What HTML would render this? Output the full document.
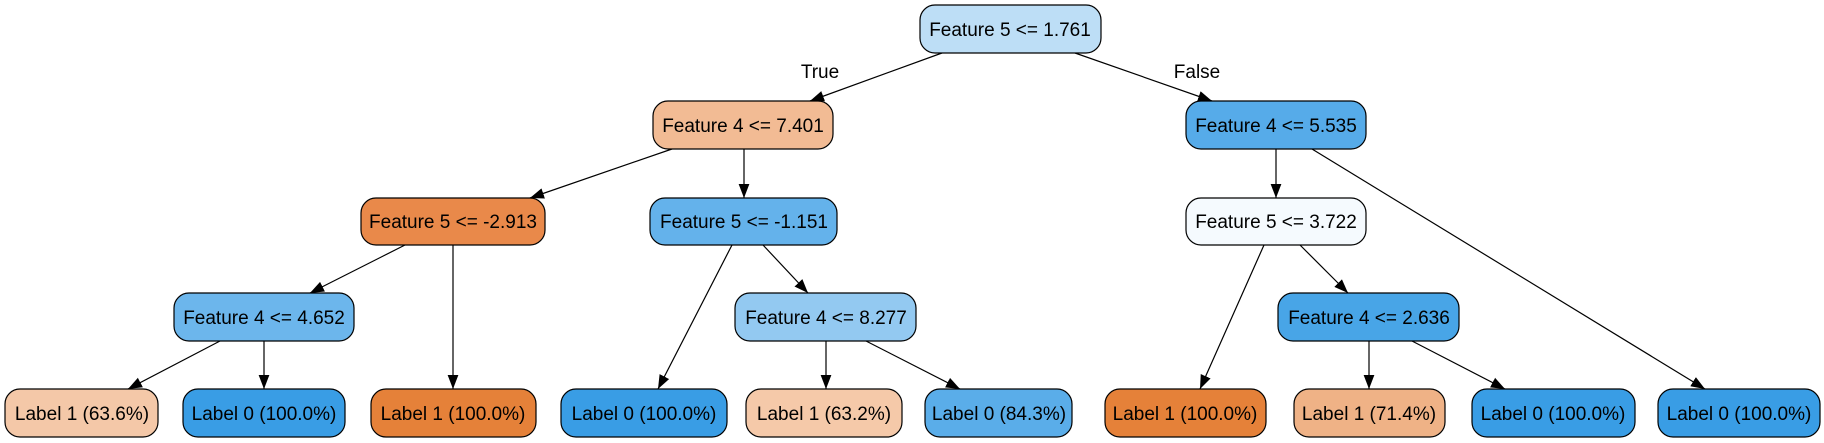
<!DOCTYPE html>
<html><head><meta charset="utf-8"><style>
html,body{margin:0;padding:0;background:#fff;}
svg{display:block;}
text{font-family:"Liberation Sans",Arial,sans-serif;font-size:19px;fill:#000;}
</style></head><body>
<svg width="1824" height="443" viewBox="0 0 1824 443" xmlns="http://www.w3.org/2000/svg">
<defs>
<marker id="m" markerWidth="14" markerHeight="14" refX="13" refY="5" orient="auto" markerUnits="userSpaceOnUse" viewBox="0 0 13 10"><path d="M0,0 L13,5 L0,10 z" fill="#000"/></marker></defs>
<g stroke="#000" stroke-width="1.2" fill="none" marker-end="url(#m)">
<line x1="942" y1="53" x2="810" y2="101"/>
<line x1="1075" y1="53" x2="1212" y2="101"/>
<line x1="672" y1="149" x2="530" y2="198"/>
<line x1="744" y1="149" x2="744" y2="198"/>
<line x1="1276" y1="149" x2="1276" y2="198"/>
<line x1="1312" y1="149" x2="1705" y2="389"/>
<line x1="405" y1="245" x2="310" y2="293"/>
<line x1="453" y1="245" x2="453" y2="389"/>
<line x1="220" y1="341" x2="128" y2="389"/>
<line x1="264" y1="341" x2="264" y2="389"/>
<line x1="732" y1="245" x2="658" y2="389"/>
<line x1="763" y1="245" x2="808" y2="293"/>
<line x1="826" y1="341" x2="826" y2="389"/>
<line x1="866" y1="341" x2="960" y2="389"/>
<line x1="1264" y1="245" x2="1200" y2="389"/>
<line x1="1300" y1="245" x2="1348" y2="293"/>
<line x1="1369" y1="341" x2="1369" y2="389"/>
<line x1="1412" y1="341" x2="1505" y2="389"/>
</g>
<text x="820" y="78" text-anchor="middle">True</text>
<text x="1197" y="78" text-anchor="middle">False</text>
<g stroke="#000" stroke-width="1.2">
<rect x="920" y="5" width="181" height="48" rx="15" fill="#bddef6"/>
<rect x="653" y="101" width="180" height="48" rx="15" fill="#f2bb94"/>
<rect x="1186" y="101" width="180" height="48" rx="15" fill="#56abe9"/>
<rect x="361" y="198" width="184" height="47" rx="15" fill="#e9894a"/>
<rect x="650" y="198" width="187" height="47" rx="15" fill="#64b2eb"/>
<rect x="1186" y="198" width="180" height="47" rx="15" fill="#f5fafe"/>
<rect x="174" y="293" width="180" height="48" rx="15" fill="#6cb6ec"/>
<rect x="735" y="293" width="181" height="48" rx="15" fill="#93c9f1"/>
<rect x="1278" y="293" width="181" height="48" rx="15" fill="#48a5e7"/>
<rect x="5" y="389" width="153" height="48" rx="15" fill="#f4c8a8"/>
<rect x="183" y="389" width="162" height="48" rx="15" fill="#399de5"/>
<rect x="371" y="389" width="165" height="48" rx="15" fill="#e58139"/>
<rect x="561" y="389" width="166" height="48" rx="15" fill="#399de5"/>
<rect x="746" y="389" width="156" height="48" rx="15" fill="#f5c9a9"/>
<rect x="925" y="389" width="147" height="48" rx="15" fill="#5aade9"/>
<rect x="1105" y="389" width="161" height="48" rx="15" fill="#e58139"/>
<rect x="1294" y="389" width="151" height="48" rx="15" fill="#efb286"/>
<rect x="1472" y="389" width="163" height="48" rx="15" fill="#399de5"/>
<rect x="1658" y="389" width="162" height="48" rx="15" fill="#399de5"/>
</g>
<g text-anchor="middle">
<text x="1010" y="36">Feature 5 &lt;= 1.761</text>
<text x="743" y="132">Feature 4 &lt;= 7.401</text>
<text x="1276" y="132">Feature 4 &lt;= 5.535</text>
<text x="453" y="228">Feature 5 &lt;= -2.913</text>
<text x="744" y="228">Feature 5 &lt;= -1.151</text>
<text x="1276" y="228">Feature 5 &lt;= 3.722</text>
<text x="264" y="324">Feature 4 &lt;= 4.652</text>
<text x="826" y="324">Feature 4 &lt;= 8.277</text>
<text x="1369" y="324">Feature 4 &lt;= 2.636</text>
<text x="82" y="420">Label 1 (63.6%)</text>
<text x="264" y="420">Label 0 (100.0%)</text>
<text x="453" y="420">Label 1 (100.0%)</text>
<text x="644" y="420">Label 0 (100.0%)</text>
<text x="824" y="420">Label 1 (63.2%)</text>
<text x="999" y="420">Label 0 (84.3%)</text>
<text x="1185" y="420">Label 1 (100.0%)</text>
<text x="1369" y="420">Label 1 (71.4%)</text>
<text x="1553" y="420">Label 0 (100.0%)</text>
<text x="1739" y="420">Label 0 (100.0%)</text>
</g>
</svg>
</body></html>
